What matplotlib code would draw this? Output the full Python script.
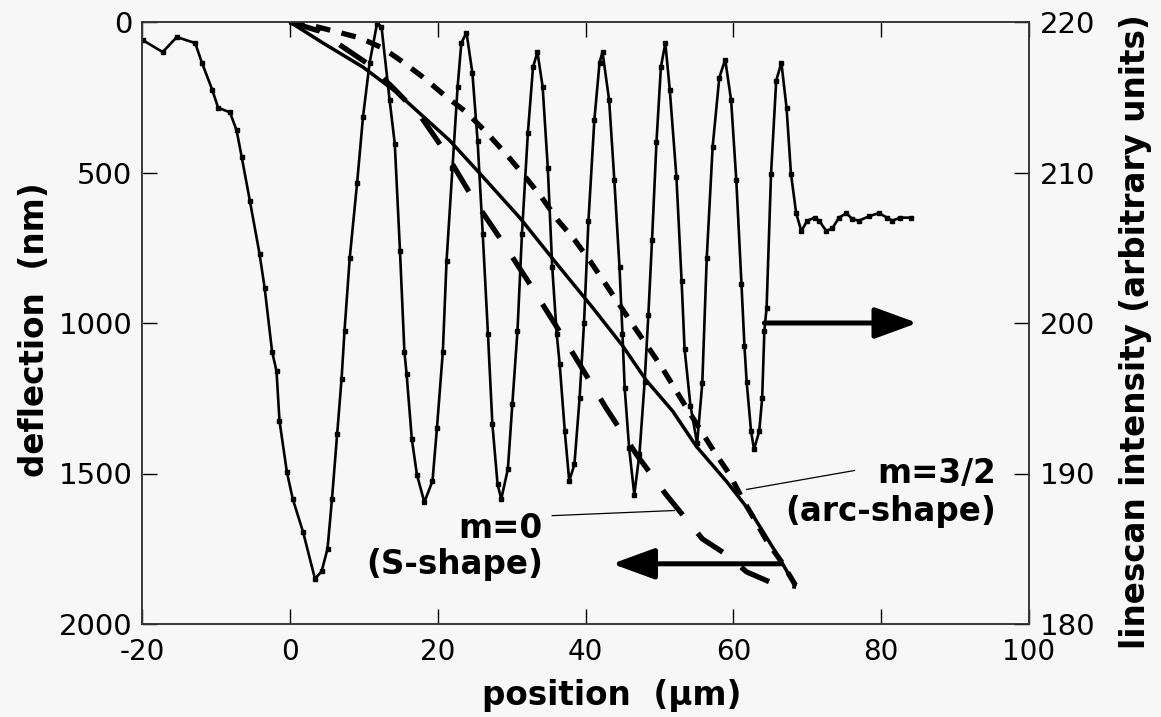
import matplotlib
matplotlib.use('Agg')
import matplotlib.pyplot as plt

plt.rcParams['axes.unicode_minus'] = False

# linescan intensity (right axis)
scan_x = [-19.9, -17.2, -15.3, -12.8, -11.9, -10.5, -9.7, -8.1, -7.2, -6.5, -5.4, -4.1, -3.4, -2.4,
          -1.8, -1.4, -0.4, 0.4, 1.8, 3.4, 4.3, 5.1, 5.7, 6.4, 7.0, 7.4, 8.1, 9.1, 9.9, 10.8, 11.8,
          12.4, 13.5, 14.2, 14.9, 15.5, 15.8, 16.5, 17.2, 18.2, 19.3, 19.9, 20.7, 21.2, 22.0, 22.7,
          23.2, 23.9, 24.7, 25.4, 26.1, 26.8, 27.4, 28.1, 28.6, 29.5, 30.1, 30.8, 31.4, 32.2, 32.9,
          33.5, 34.2, 34.9, 35.5, 36.1, 36.5, 37.2, 37.8, 38.5, 39.2, 39.8, 40.4, 41.2, 41.9, 42.3,
          43.2, 43.9, 44.6, 45.0, 45.3, 45.9, 46.6, 47.3, 48.0, 48.5, 49.0, 49.6, 50.2, 50.8, 51.4,
          52.3, 53.0, 53.4, 54.2, 55.1, 55.8, 56.4, 57.2, 58.1, 58.9, 59.7, 60.4, 61.1, 61.5, 61.8,
          62.4, 62.8, 63.5, 63.9, 64.2, 64.5, 65.1, 65.8, 66.5, 67.2, 67.8, 68.5, 69.2, 70.0, 71.0,
          71.6, 72.6, 73.4, 74.3, 75.3, 76.1, 77.0, 78.4, 79.7, 80.8, 81.5, 82.6, 84.1]
scan_i = [218.8, 218.0, 219.0, 218.6, 217.3, 215.5, 214.3, 214.0, 212.8, 211.0, 208.1, 204.6, 202.3, 198.1,
          196.8, 193.5, 190.1, 188.3, 186.1, 183.0, 183.5, 185.0, 188.3, 192.6, 196.3, 199.5, 204.3, 209.3,
          213.7, 217.3, 219.9, 219.7, 214.8, 211.9, 204.8, 198.1, 196.6, 192.3, 189.9, 188.1, 189.5, 193.0,
          198.1, 204.1, 210.3, 215.7, 218.6, 219.3, 216.6, 212.1, 205.9, 199.3, 193.3, 189.3, 188.3, 190.3,
          194.6, 199.5, 205.9, 212.6, 217.0, 218.0, 215.7, 210.3, 203.7, 199.3, 197.3, 192.8, 189.5, 190.6,
          195.0, 200.0, 206.8, 213.5, 217.3, 218.0, 214.8, 209.5, 203.7, 199.3, 195.7, 191.7, 188.6, 191.3,
          196.1, 200.5, 205.5, 212.0, 217.0, 218.6, 215.5, 209.7, 202.8, 198.3, 194.5, 192.0, 196.0, 204.3,
          211.7, 216.3, 217.5, 214.8, 209.5, 202.6, 198.5, 196.1, 192.8, 191.6, 192.8, 195.0, 199.5, 201.0,
          209.9, 216.1, 217.3, 214.3, 209.9, 207.3, 206.1, 206.8, 207.0, 206.8, 206.1, 206.3, 207.0, 207.3,
          206.9, 206.8, 207.1, 207.3, 207.0, 206.8, 207.0, 207.0]

# calculated deflection profiles (left axis)
solid_x = [0, 4.5, 9.9, 14.5, 21.6, 25.7, 31.1, 36.1, 41.0, 45.0, 48.2, 51.8, 55.0, 59.1, 62.6, 66.2, 68.3]
solid_d = [0, 70, 150, 235, 393, 503, 650, 803, 950, 1075, 1190, 1293, 1410, 1527, 1637, 1780, 1870]

arc_x = [0, 3.5, 6.4, 9.5, 12.6, 15.3, 18.0, 20.9, 23.9, 26.6, 29.3, 31.8, 34.0, 36.2, 38.5, 40.7,
         42.7, 46.6, 50.4, 53.8, 57.4, 59.5, 61.2, 62.8, 64.6, 66.5, 68.5]
arc_d = [0, 15, 33, 53, 87, 133, 183, 243, 300, 367, 440, 513, 580, 657, 723, 797,
         870, 1013, 1150, 1287, 1427, 1503, 1583, 1650, 1727, 1793, 1875]

s_x = [0, 4.0, 7.0, 10.8, 13.9, 17.6, 20.9, 24.7, 28.4, 32.2, 35.6, 39.2, 42.8, 46.9, 50.9, 55.8,
       59.1, 61.8, 64.9, 68.5]
s_d = [0, 30, 80, 143, 217, 310, 427, 583, 717, 860, 993, 1137, 1283, 1437, 1570, 1717,
       1770, 1827, 1860, 1875]

bg = '#f7f7f7'
fig = plt.figure(figsize=(11.61, 7.17), dpi=100, facecolor=bg)
ax = fig.add_axes([142/1161, 1-624/717, 887/1161, 602/717])
ax.set_facecolor(bg)
ax2 = ax.twinx()

ax.plot(solid_x, solid_d, color='black', lw=2.5)
ax.plot(arc_x, arc_d, color='black', lw=3.8, dashes=(2.8, 2.2))
ax.plot(s_x, s_d, color='black', lw=3.8, dashes=(6, 4.5))

ax2.plot(scan_x, scan_i, color='black', lw=1.9, marker='s', markersize=3.2)

# pointer lines to the labels
ax.plot([35.5, 52.0], [1640, 1623], color='black', lw=0.9)
ax.plot([76.4, 61.8], [1490, 1553], color='black', lw=0.9)

bold = dict(fontsize=23.5, fontweight='bold', ha='right', va='center')
ax.text(34.2, 1683, 'm=0', **bold)
ax.text(34.2, 1803, '(S-shape)', **bold)
ax.text(95.5, 1500, 'm=3/2', **bold)
ax.text(95.5, 1627, '(arc-shape)', **bold)

arrow = dict(arrowstyle='-|>,head_length=2.6,head_width=0.95', mutation_scale=10,
             lw=3.6, color='black', shrinkA=0, shrinkB=0)
ax.annotate('', xy=(84.9, 1000), xytext=(64.2, 1000), arrowprops=arrow)
ax.annotate('', xy=(43.6, 1800), xytext=(66.5, 1800), arrowprops=arrow)

ax.set_xlim(-20, 100)
ax.set_ylim(2000, 0)
ax2.set_ylim(180, 220)
ax.set_xticks([-20, 0, 20, 40, 60, 80, 100])
ax.set_yticks([0, 500, 1000, 1500, 2000])
ax2.set_yticks([180, 190, 200, 210, 220])

ax.tick_params(axis='x', direction='in', length=11, width=1, top=True, labelsize=20, pad=10)
ax.tick_params(axis='y', direction='in', length=11, width=1, right=False, labelsize=21, pad=7)
ax2.tick_params(axis='y', direction='in', length=11, width=1, labelsize=21, pad=8)
for a in (ax, ax2):
    for sp in a.spines.values():
        sp.set_linewidth(1.1)
        sp.set_color('#333333')

fig.text(35/1161, 1-330/717, 'deflection  (nm)', rotation=90, ha='center', va='center',
         fontsize=23.5, fontweight='bold')
fig.text(612/1161, 1-695/717, 'position  (\u00b5m)', ha='center', va='center',
         fontsize=23.5, fontweight='bold')
fig.text(1136/1161, 1-332/717, 'linescan intensity (arbitrary units)', rotation=90,
         ha='center', va='center', fontsize=23.5, fontweight='bold')

fig.savefig('out.png', dpi=100, facecolor=bg)
